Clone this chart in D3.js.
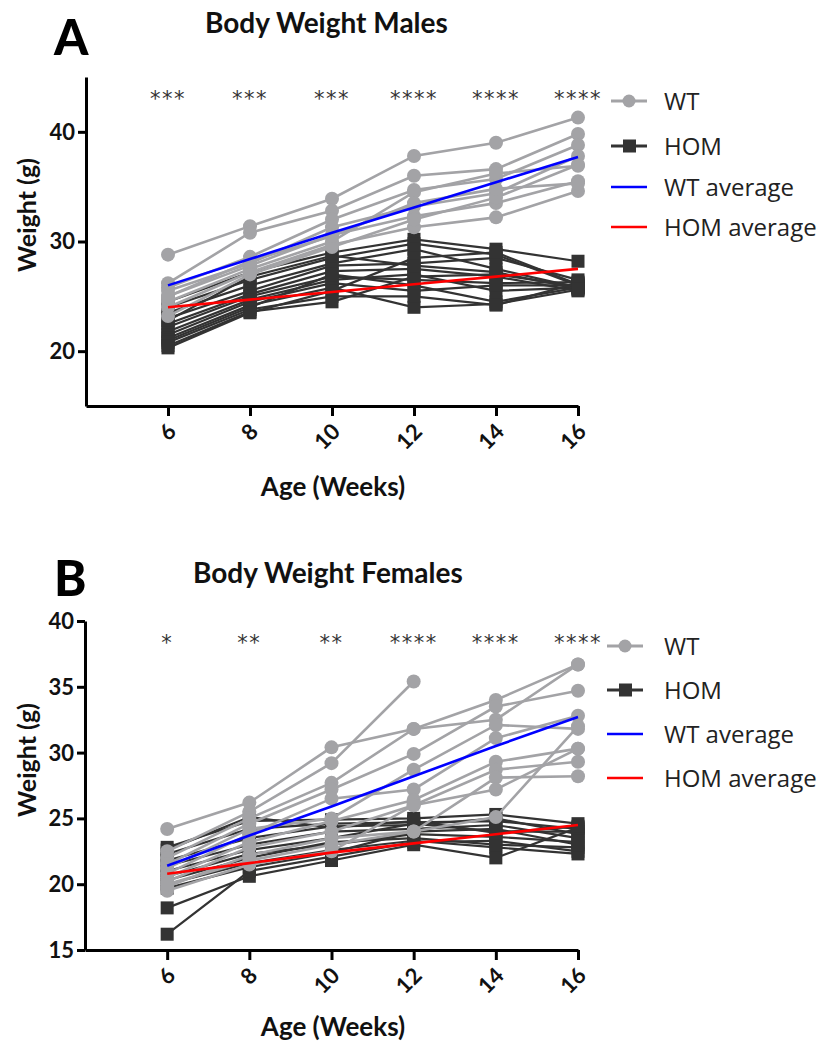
<!DOCTYPE html>
<html><head><meta charset="utf-8">
<script src="https://cdn.jsdelivr.net/npm/d3@7"></script>
<style>body{margin:0;background:#fff}svg{display:block}</style>
</head><body>
<script>
const weeks = [6, 8, 10, 12, 14, 16];
const xTicks = [6, 8, 10, 12, 14, 16];

// Panel A — males
const wtMales = [
  [28.8, 31.4, 33.9, 37.8, 39.0, 41.3],
  [26.2, 30.8, 32.8, 36.0, 36.6, 39.8],
  [25.8, 28.6, 32.0, 34.7, 35.7, 38.8],
  [25.5, 28.0, 31.3, 33.2, 34.4, 37.8],
  [25.0, 27.8, 30.6, 32.3, 33.5, 35.5],
  [24.5, 27.5, 30.0, 34.5, 36.2, 36.9],
  [24.0, 27.2, 29.7, 31.3, 32.2, 34.6],
  [23.2, 27.0, 29.5, 32.0, 34.0, 37.0],
  [25.0, 28.2, 30.5, 33.5, 34.8, 35.3]
];
const homMales = [
  [24.5, 27.2, 29.0, 30.2, 29.3, 28.2],
  [24.0, 26.5, 28.5, 29.8, 28.8, 26.0],
  [23.5, 26.0, 28.0, 29.3, 27.5, 25.8],
  [23.0, 25.5, 27.8, 28.0, 28.5, 26.5],
  [22.5, 25.2, 27.3, 27.5, 26.8, 25.5],
  [22.2, 25.0, 26.8, 26.5, 26.2, 26.3],
  [21.8, 24.7, 26.5, 27.0, 25.5, 25.8],
  [21.5, 24.5, 26.2, 25.5, 26.0, 26.0],
  [21.2, 24.2, 25.8, 24.0, 24.3, 25.6],
  [21.0, 24.0, 27.0, 26.0, 24.5, 25.8],
  [20.8, 23.8, 25.0, 25.0, 24.2, 26.2],
  [20.5, 23.6, 24.5, 26.8, 27.0, 25.9],
  [20.3, 23.5, 25.5, 28.5, 29.0, 26.1],
  [22.8, 26.8, 28.7, 27.8, 27.2, 25.7]
];
const wtAvgMales = [26.0, 28.4, 30.8, 33.1, 35.4, 37.7];
const homAvgMales = [24.0, 24.7, 25.4, 26.1, 26.8, 27.5];
const starsMales = ["***", "***", "***", "****", "****", "****"];
const yTicksMales = [20, 30, 40];

// Panel B — females
const wtFemales = [
  [24.2, 26.2, 30.4, 31.8, 34.0, 36.7],
  [22.5, 25.5, 29.2, 35.4, null, null],
  [22.0, 25.0, 27.7, 31.8, 32.5, 36.7],
  [21.5, 24.6, 27.2, 29.9, 33.5, 34.7],
  [21.2, 24.2, 25.0, 28.7, 32.1, 31.8],
  [20.8, 23.8, 26.5, 27.2, 31.1, 32.8],
  [20.5, 23.2, 24.8, 26.4, 29.3, 30.3],
  [20.2, 22.8, 24.0, 26.0, 28.7, 29.3],
  [19.8, 22.2, 23.5, 24.0, 28.1, 28.2],
  [19.5, 21.5, 22.5, 26.0, 27.2, 30.3],
  [20.0, 21.8, 23.0, 24.0, 25.1, 32.0]
];
const homFemales = [
  [22.8, 24.8, 24.9, 25.0, 25.3, 24.6],
  [22.3, 24.2, 24.6, 24.7, 24.8, 24.2],
  [21.8, 23.5, 24.4, 24.5, 25.0, 23.8],
  [21.4, 23.0, 24.0, 24.2, 24.5, 23.5],
  [21.0, 22.6, 23.5, 24.6, 24.0, 24.0],
  [20.6, 22.3, 23.0, 23.8, 23.6, 23.2],
  [20.3, 22.0, 23.2, 23.5, 23.0, 22.8],
  [20.0, 21.6, 22.6, 23.3, 22.8, 22.3],
  [18.2, 20.6, 21.8, 23.0, 22.0, 24.3],
  [16.2, 21.0, 22.1, 23.2, 23.3, 22.5],
  [19.7, 21.3, 22.4, 24.0, 24.2, 23.0],
  [22.6, 25.1, 24.3, 24.8, 23.9, 24.4]
];
const wtAvgFemales = [21.4, 23.7, 25.9, 28.2, 30.5, 32.7];
const homAvgFemales = [20.8, 21.6, 22.4, 23.1, 23.8, 24.5];
const starsFemales = ["*", "**", "**", "****", "****", "****"];
const yTicksFemales = [15, 20, 25, 30, 35, 40];

const legendLabels = ["WT", "HOM", "WT average", "HOM average"];

const C_WT = "#a3a3a6", C_HOM = "#333333", C_BLUE = "#0000ff", C_RED = "#ff0000";
const FONT = "Lato, 'Open Sans', sans-serif";

const svg = d3.select("body").append("svg").attr("width", 825).attr("height", 1043);

function panel(cfg) {
  const g = svg.append("g");
  const x = d3.scaleLinear().domain([4, 16]).range([cfg.x0, 578]);
  const y = d3.scaleLinear().domain(cfg.yDomain).range([cfg.yBottom, cfg.yTop]);

  g.append("text").attr("x", cfg.letterX).attr("y", cfg.letterY).text(cfg.letter)
    .attr("font-family", FONT).attr("font-weight", 900).attr("font-size", 49).attr("fill", "#000");
  g.append("text").attr("x", cfg.titleX).attr("y", cfg.titleY).text(cfg.title)
    .attr("font-family", FONT).attr("font-weight", 700).attr("font-size", 28).attr("fill", "#111");

  const yAxis = g.append("g").attr("transform", `translate(${cfg.x0},0)`)
    .call(d3.axisLeft(y).tickValues(cfg.yTicks).tickSize(8).tickSizeOuter(0).tickPadding(3));
  const xAxis = g.append("g").attr("transform", `translate(0,${cfg.yBottom})`)
    .call(d3.axisBottom(x).tickValues(xTicks).tickSize(10).tickSizeOuter(0).tickFormat(d3.format("d")));
  [yAxis, xAxis].forEach(a => {
    a.select(".domain").attr("stroke", "#000").attr("stroke-width", 3);
    a.selectAll(".tick line").attr("stroke", "#000").attr("stroke-width", 3);
    a.selectAll("text").attr("font-family", FONT).attr("font-weight", 700).attr("font-size", 22).attr("fill", "#111");
  });
  yAxis.selectAll("text").attr("dy", "0.34em");
  xAxis.selectAll("text")
    .attr("text-anchor", "end").attr("dy", 0).attr("y", 0)
    .attr("transform", "translate(9,27) rotate(-45)");

  g.append("text").attr("transform", `translate(${cfg.yLabelX},${cfg.yLabelY}) rotate(-90)`)
    .attr("text-anchor", "middle").text("Weight (g)")
    .attr("font-family", FONT).attr("font-weight", 700).attr("font-size", 25).attr("fill", "#111");
  g.append("text").attr("x", 333).attr("y", cfg.xLabelY).attr("text-anchor", "middle").text("Age (Weeks)")
    .attr("font-family", FONT).attr("font-weight", 700).attr("font-size", 26).attr("fill", "#111");

  const line = d3.line().defined(d => d != null).x((d, i) => x(weeks[i])).y(d => y(d));
  const lineIdx = d3.line().defined(d => d.v != null).x(d => x(d.w)).y(d => y(d.v));
  const pts = arr => arr.map((v, i) => ({ w: weeks[i], v })).filter(d => d.v != null);

  const hom = g.append("g");
  cfg.hom.forEach(s => {
    hom.append("path").attr("d", lineIdx(s.map((v, i) => ({ w: weeks[i], v }))))
      .attr("fill", "none").attr("stroke", C_HOM).attr("stroke-width", 2.2);
  });
  cfg.hom.forEach(s => {
    hom.selectAll(null).data(pts(s)).enter().append("rect")
      .attr("x", d => x(d.w) - 6.5).attr("y", d => y(d.v) - 6.5)
      .attr("width", 13).attr("height", 13).attr("fill", C_HOM);
  });
  const wt = g.append("g");
  cfg.wt.forEach(s => {
    wt.append("path").attr("d", lineIdx(s.map((v, i) => ({ w: weeks[i], v }))))
      .attr("fill", "none").attr("stroke", C_WT).attr("stroke-width", 2.6);
  });
  cfg.wt.forEach(s => {
    wt.selectAll(null).data(pts(s)).enter().append("circle")
      .attr("cx", d => x(d.w)).attr("cy", d => y(d.v)).attr("r", 7).attr("fill", C_WT);
  });
  g.append("path").attr("d", line(cfg.wtAvg)).attr("fill", "none").attr("stroke", C_BLUE).attr("stroke-width", 2.6);
  g.append("path").attr("d", line(cfg.homAvg)).attr("fill", "none").attr("stroke", C_RED).attr("stroke-width", 2.6);

  g.selectAll(null).data(cfg.stars).enter().append("text")
    .attr("x", (d, i) => x(weeks[i])).attr("y", cfg.starY).attr("text-anchor", "middle")
    .attr("font-family", "'DejaVu Sans', sans-serif").attr("font-size", 21).attr("letter-spacing", 1.5)
    .attr("fill", "#333").text(d => d);

  const lg = g.append("g");
  legendLabels.forEach((lab, i) => {
    const ly = cfg.legendY[i];
    const col = [C_WT, C_HOM, C_BLUE, C_RED][i];
    lg.append("line").attr("x1", cfg.legX1).attr("x2", cfg.legX1 + 36).attr("y1", ly).attr("y2", ly)
      .attr("stroke", col).attr("stroke-width", i < 2 ? 3 : 2.6);
    if (i === 0) lg.append("circle").attr("cx", cfg.legX1 + 18).attr("cy", ly).attr("r", 6.5).attr("fill", col);
    if (i === 1) lg.append("rect").attr("x", cfg.legX1 + 12).attr("y", ly - 6.5).attr("width", 13).attr("height", 13).attr("fill", col);
    lg.append("text").attr("x", 664).attr("y", ly).attr("dy", "0.36em").text(lab)
      .attr("font-family", "'Open Sans', sans-serif").attr("font-size", 24).attr("fill", "#222");
  });
}

panel({
  letter: "A", letterX: 54, letterY: 55, title: "Body Weight Males", titleX: 205, titleY: 33,
  x0: 86, yDomain: [15, 45], yBottom: 406, yTop: 77, yTicks: yTicksMales,
  yLabelX: 36, yLabelY: 215, xLabelY: 496,
  wt: wtMales, hom: homMales, wtAvg: wtAvgMales, homAvg: homAvgMales,
  stars: starsMales, starY: 106, legX1: 611, legendY: [101, 146, 187, 227]
});
panel({
  letter: "B", letterX: 54, letterY: 596, title: "Body Weight Females", titleX: 193, titleY: 583,
  x0: 85, yDomain: [15, 40], yBottom: 950, yTop: 621, yTicks: yTicksFemales,
  yLabelX: 36, yLabelY: 760, xLabelY: 1036,
  wt: wtFemales, hom: homFemales, wtAvg: wtAvgFemales, homAvg: homAvgFemales,
  stars: starsFemales, starY: 650, legX1: 607, legendY: [646, 690, 734, 778]
});
</script>
</body></html>
